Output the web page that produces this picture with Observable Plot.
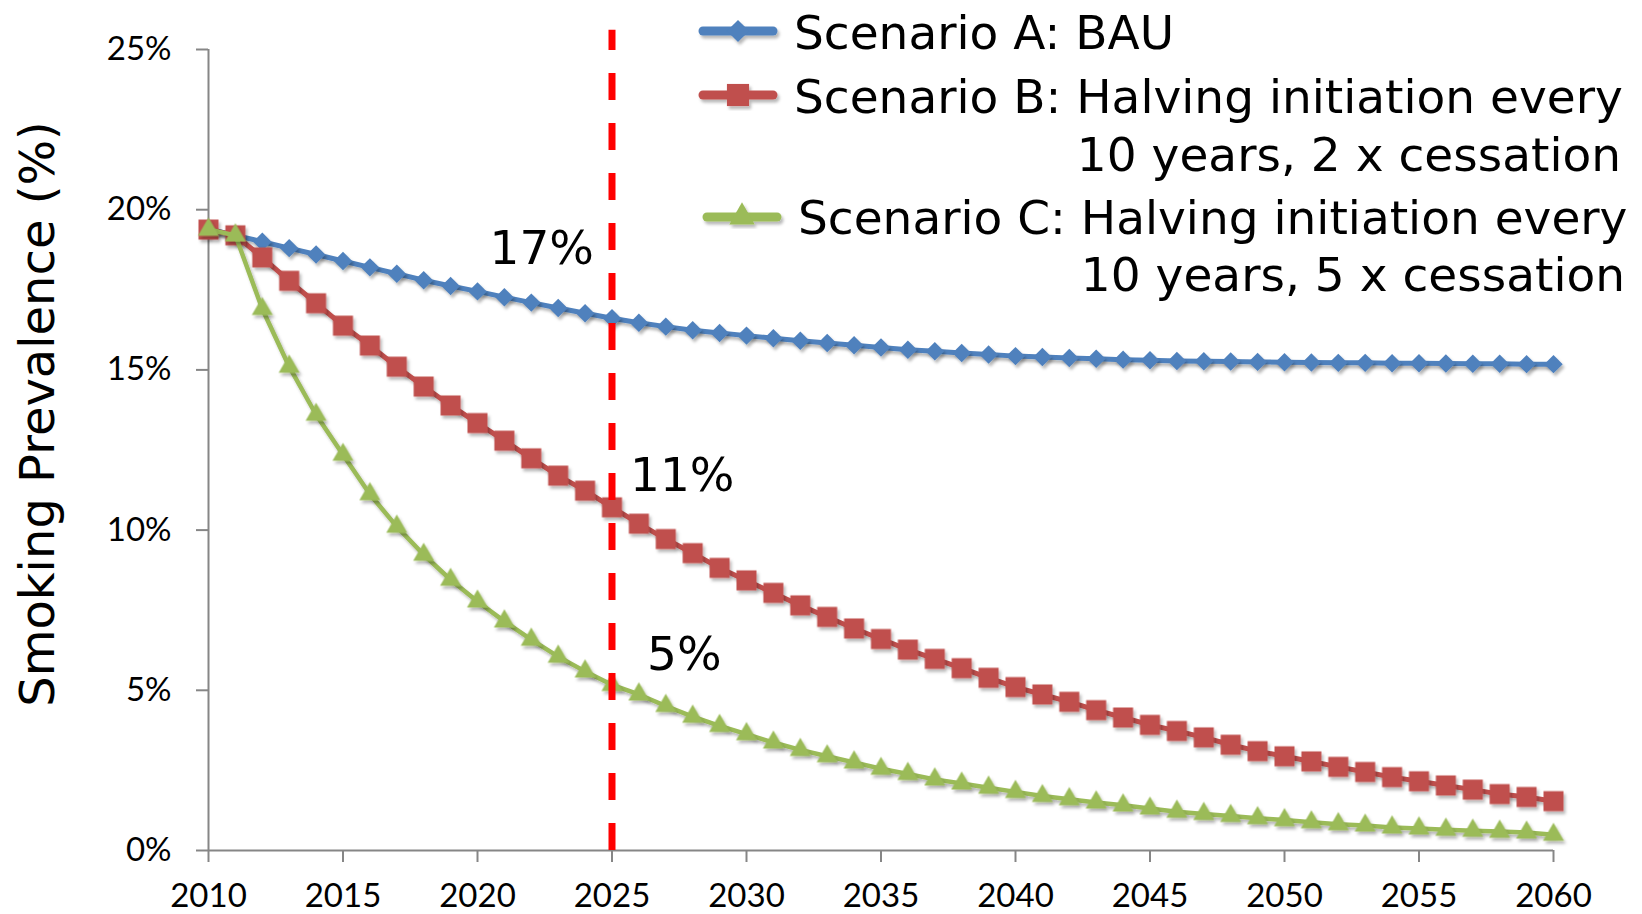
<!DOCTYPE html>
<html>
<head>
<meta charset="utf-8">
<script src="https://cdn.jsdelivr.net/npm/d3@7"></script>
<script src="https://cdn.jsdelivr.net/npm/@observablehq/plot@0.6"></script>
<style>
  html, body { margin: 0; padding: 0; background: #fff; }
  #chart svg { display: block; }
</style>
</head>
<body>
<div id="chart"></div>
<script>
// ---- Data ----
const years = [2010,2011,2012,2013,2014,2015,2016,2017,2018,2019,
               2020,2021,2022,2023,2024,2025,2026,2027,2028,2029,
               2030,2031,2032,2033,2034,2035,2036,2037,2038,2039,
               2040,2041,2042,2043,2044,2045,2046,2047,2048,2049,
               2050,2051,2052,2053,2054,2055,2056,2057,2058,2059,2060];

const scenarioA = [19.4,19.2,19.0,18.8,18.6,18.4,18.2,18.0,17.8,17.62,
                   17.45,17.27,17.1,16.93,16.77,16.61,16.47,16.35,16.24,16.15,
                   16.07,15.99,15.91,15.84,15.77,15.70,15.63,15.58,15.53,15.48,
                   15.43,15.40,15.37,15.35,15.32,15.30,15.28,15.27,15.26,15.25,
                   15.24,15.23,15.22,15.22,15.21,15.21,15.20,15.19,15.19,15.18,15.18];

const scenarioB = [19.38,19.2,18.51,17.78,17.08,16.38,15.76,15.1,14.48,13.89,
                   13.34,12.79,12.24,11.70,11.23,10.71,10.2,9.72,9.28,8.82,
                   8.43,8.04,7.65,7.29,6.93,6.6,6.27,5.98,5.69,5.39,
                   5.1,4.87,4.64,4.38,4.15,3.92,3.73,3.53,3.3,3.1,
                   2.94,2.78,2.61,2.45,2.29,2.16,2.03,1.9,1.76,1.67,1.54];

const scenarioC = [19.38,19.2,16.9,15.1,13.6,12.35,11.12,10.11,9.23,8.45,
                   7.77,7.15,6.58,6.05,5.59,5.17,4.87,4.51,4.18,3.89,
                   3.63,3.37,3.14,2.94,2.75,2.55,2.39,2.22,2.09,1.96,
                   1.83,1.7,1.6,1.5,1.41,1.31,1.21,1.14,1.08,1.01,
                   0.95,0.88,0.82,0.78,0.72,0.69,0.65,0.62,0.59,0.56,0.49];

const xTicks = [2010,2015,2020,2025,2030,2035,2040,2045,2050,2055,2060];
const yTicks = [0,5,10,15,20,25];

const targetYear = [2025];
const annotA = ["17%"];
const annotB = ["11%"];
const annotC = ["5%"];

const legendLabels = {
  a: ["Scenario A: BAU"],
  b: ["Scenario B: Halving initiation every", "10 years, 2 x cessation"],
  c: ["Scenario C: Halving initiation every", "10 years, 5 x cessation"]
};
const yTitle = "Smoking Prevalence (%)";

// ---- Build table ----
const rows = years.map((year, i) => ({year, a: scenarioA[i], b: scenarioB[i], c: scenarioC[i]}));
const at2025 = rows.filter(d => d.year === targetYear[0]);

const BLUE = "#4F81BD", RED = "#C0504D", GREEN = "#9BBB59", AXIS = "#868686";
const LABEL_FONT = "DejaVu Sans";

const plot = Plot.plot({
  width: 1642,
  height: 914,
  marginLeft: 208,
  marginRight: 89,
  marginTop: 49,
  marginBottom: 64,
  style: {fontFamily: "Lato", fontSize: "33px", background: "white", overflow: "visible", color: "#000"},
  x: {domain: [2010, 2060]},
  y: {domain: [0, 25]},
  marks: [
    Plot.axisY({ticks: yTicks, tickSize: 12, tickPadding: 25, tickFormat: d => d + "%", color: "#000", stroke: AXIS, strokeWidth: 2, label: null, fontSize: 33}),
    Plot.axisX({ticks: xTicks, tickSize: 12, tickPadding: 21, tickFormat: d => String(d), color: "#000", stroke: AXIS, strokeWidth: 2, label: null, fontSize: 33}),
    Plot.ruleX([2010], {stroke: AXIS, strokeWidth: 2}),
    Plot.ruleY([0], {stroke: AXIS, strokeWidth: 2}),
    Plot.lineY(rows, {x: "year", y: "a", stroke: BLUE, strokeWidth: 5}),
    Plot.dot(rows, {x: "year", y: "a", symbol: "diamond2", r: 8.3, fill: BLUE, stroke: "none"}),
    Plot.lineY(rows, {x: "year", y: "b", stroke: RED, strokeWidth: 5}),
    Plot.dot(rows, {x: "year", y: "b", symbol: "square", r: 11.3, fill: RED, stroke: "none"}),
    Plot.lineY(rows, {x: "year", y: "c", stroke: GREEN, strokeWidth: 4.5}),
    Plot.dot(rows, {x: "year", y: "c", symbol: "triangle", r: 7.8, fill: GREEN, stroke: "none"}),
    Plot.ruleX(targetYear, {y1: 0, y2: 25.6, stroke: "#FF0000", strokeWidth: 7, strokeDasharray: "27,23"}),
    Plot.text(at2025, {x: "year", y: "a", text: () => annotA[0], textAnchor: "end", dx: -18, dy: -69, fontFamily: LABEL_FONT, fontSize: 47, fill: "#000"}),
    Plot.text(at2025, {x: "year", y: "b", text: () => annotB[0], textAnchor: "start", dx: 18, dy: -31, fontFamily: LABEL_FONT, fontSize: 47, fill: "#000"}),
    Plot.text(at2025, {x: "year", y: "c", text: () => annotC[0], textAnchor: "start", dx: 35, dy: -30, fontFamily: LABEL_FONT, fontSize: 47, fill: "#000"})
  ]
});

document.getElementById("chart").appendChild(plot);

const svg = d3.select(plot);

// subtle Excel-like drop shadow on the series
const defs = svg.insert("defs", ":first-child");
const f = defs.append("filter").attr("id", "shadow").attr("x", "-20%").attr("y", "-20%").attr("width", "140%").attr("height", "140%");
f.append("feDropShadow").attr("dx", 2).attr("dy", 3).attr("stdDeviation", 1.5)
  .attr("flood-color", "#000").attr("flood-opacity", 0.28);
svg.selectAll('g[aria-label="dot"], g[aria-label="line"]').attr("filter", "url(#shadow)");

// ---- Legend and y title (layout overlay) ----
const lg = svg.append("g")
  .attr("font-family", LABEL_FONT)
  .attr("font-size", 47)
  .attr("fill", "#000")
  .attr("text-anchor", "start");

function legendItem(cx, cy, color, symbolType, symbolSize) {
  const g = lg.append("g").attr("filter", "url(#shadow)");
  g.append("line")
    .attr("x1", cx - 35).attr("x2", cx + 35).attr("y1", cy).attr("y2", cy)
    .attr("stroke", color).attr("stroke-width", 9).attr("stroke-linecap", "round");
  g.append("path")
    .attr("transform", `translate(${cx},${cy})`)
    .attr("d", d3.symbol(symbolType, symbolSize)())
    .attr("fill", color);
}
legendItem(738, 31, BLUE, d3.symbolDiamond2, Math.PI * 10 * 10);
legendItem(738, 95, RED, d3.symbolSquare, Math.PI * 12.5 * 12.5);
legendItem(742, 217, GREEN, d3.symbolTriangle, Math.PI * 9.5 * 9.5);

lg.append("text").attr("x", 794).attr("y", 49).text(legendLabels.a[0]);
lg.append("text").attr("x", 794).attr("y", 113).text(legendLabels.b[0]);
lg.append("text").attr("x", 1621).attr("y", 171).attr("text-anchor", "end").text(legendLabels.b[1]);
lg.append("text").attr("x", 798).attr("y", 234).text(legendLabels.c[0]);
lg.append("text").attr("x", 1625).attr("y", 291).attr("text-anchor", "end").text(legendLabels.c[1]);

svg.append("text")
  .attr("transform", "translate(54,414) rotate(-90)")
  .attr("text-anchor", "middle")
  .attr("font-family", LABEL_FONT)
  .attr("font-size", 48)
  .attr("fill", "#000")
  .text(yTitle);
</script>
</body>
</html>
